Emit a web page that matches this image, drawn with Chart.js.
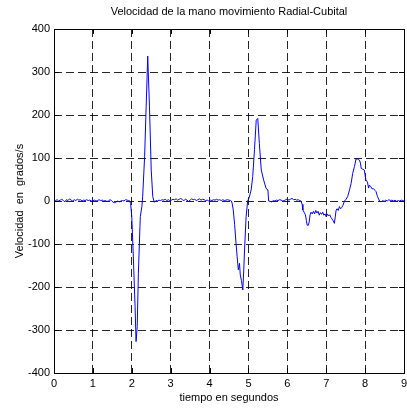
<!DOCTYPE html>
<html>
<head>
<meta charset="utf-8">
<script src="https://cdn.jsdelivr.net/npm/chart.js@4/dist/chart.umd.min.js"></script>
<style>
  body { margin: 0; background: #fff; }
  canvas { display: block; }
</style>
</head>
<body>
<canvas id="graficoVelocidad" width="407" height="411"></canvas>
<script>
// tiempo (s) y velocidad (grados/s) de la mano, movimiento radial-cubital
const tiempo = [
  0, 0.04, 0.08, 0.12, 0.16, 0.2, 0.24, 0.28, 0.32, 0.36, 0.4, 0.44, 0.48, 0.52, 0.56, 0.6, 0.64, 0.68, 0.72, 0.76,
  0.8, 0.84, 0.88, 0.92, 0.96, 1.0, 1.04, 1.08, 1.12, 1.16, 1.2, 1.24, 1.28, 1.32, 1.36, 1.4, 1.44, 1.48, 1.52, 1.56,
  1.6, 1.64, 1.68, 1.72, 1.76, 1.8, 1.84, 1.88, 1.92,
  // primer movimiento
  1.95, 1.97, 2.0, 2.04, 2.085, 2.11, 2.14, 2.17, 2.21, 2.22, 2.26, 2.28, 2.33, 2.37, 2.41, 2.455, 2.5, 2.54, 2.58, 2.62,
  2.66, 2.7, 2.74, 2.78, 2.82, 2.86, 2.9, 2.94, 2.98, 3.02, 3.06, 3.1, 3.14, 3.18, 3.22, 3.26, 3.3, 3.34, 3.38, 3.42,
  3.46, 3.5, 3.54, 3.58, 3.62, 3.66, 3.7, 3.74, 3.78, 3.82, 3.86, 3.9, 3.94, 3.98, 4.02, 4.06, 4.1, 4.14, 4.18, 4.22,
  4.26, 4.3, 4.34, 4.38, 4.42, 4.46, 4.5, 4.54,
  // segundo movimiento
  4.56, 4.58, 4.61, 4.645, 4.68, 4.71, 4.74, 4.77, 4.79, 4.82, 4.855, 4.88, 4.90, 4.94, 4.98, 5.02, 5.07, 5.11, 5.155, 5.20,
  5.24, 5.28, 5.33, 5.39, 5.455, 5.50, 5.52, 5.56,
  5.6, 5.64, 5.68, 5.72, 5.76, 5.8, 5.84, 5.88, 5.92, 5.96, 6.0, 6.04, 6.08, 6.12, 6.16, 6.2, 6.24, 6.28, 6.32,
  // tercer movimiento
  6.355, 6.38, 6.40, 6.43, 6.465, 6.49, 6.51, 6.535, 6.56, 6.585, 6.61, 6.64, 6.67, 6.70, 6.73, 6.76, 6.79, 6.82, 6.85, 6.88,
  6.91, 6.94, 6.97, 7.0, 7.03, 7.06, 7.09, 7.12, 7.15, 7.18, 7.21, 7.235, 7.255, 7.28, 7.31, 7.34, 7.37, 7.40, 7.43, 7.47,
  7.51, 7.55, 7.6, 7.64, 7.68, 7.725, 7.77, 7.79, 7.81, 7.83, 7.855, 7.88, 7.90, 7.94, 7.98, 8.02, 8.06, 8.09, 8.11, 8.15,
  8.18, 8.21, 8.25, 8.28, 8.32, 8.37,
  8.41, 8.45, 8.49, 8.53, 8.57, 8.61, 8.65, 8.69, 8.73, 8.77, 8.81, 8.85, 8.89, 8.93, 8.97, 9.0
];
const velocidad = [
  2, 1, 3, 0, 2, 4, 1, -2, 3, 1, 5, 2, 0, 3, 1, 4, 2, 3, 0, 2,
  1, 3, 1, 2, 0, 1, 2, 0, 1, 3, 1, 2, 0, 1, -1, 0, 3, 1, -3, -4,
  -2, 0, -2, 0, 1, 0, 3, 2, 1,
  0, -6, -36, -130, -246, -327, -292, -168, -60, -36, -13, 10, 103, 219, 337, 219, 72, 10, -3, 1,
  0, 2, 1, 3, 2, 4, 1, 3, 0, 2, 4, 3, 5, 2, 4, 6, 3, 1, 4, 2,
  -1, 2, 5, 3, 4, 1, 3, 5, 2, 4, 3, 1, 2, 0, 2, 1, 3, 2, 4, 2,
  3, 1, 3, 1, 2, 3, 2, 1,
  0, -5, -21, -55, -98, -130, -160, -145, -172, -185, -207, -160, -114, -36, 0, 8, 26, 57, 119, 188,
  192, 134, 72, 49, 29, 26, 0, -1,
  -2, 1, 0, 2, 1, 3, 2, 0, 1, 3, 5, 2, 4, 6, 3, 4, 2, 3, 1,
  0, -8, -21, -26, -32, -45, -56, -57, -50, -32, -26, -30, -24, -30, -22, -28, -24, -33, -27, -31,
  -26, -33, -30, -37, -30, -35, -32, -38, -42, -46, -52, -35, -21, -18, -22, -13, -18, -15, -10, 0,
  4, 10, 26, 41, 64, 80, 99, 97, 99, 96, 95, 88, 76, 74, 72, 49, 44, 30, 37, 33,
  28, 29, 25, 22, 10, 0,
  -2, 1, -1, 2, 0, 3, 1, 2, 0, 2, -1, 1, 0, 2, 1, 0
];

const ticksX = [0, 1, 2, 3, 4, 5, 6, 7, 8, 9];
const ticksY = [-400, -300, -200, -100, 0, 100, 200, 300, 400];
const titulo = 'Velocidad de la mano movimiento Radial-Cubital';

const fuente = "'Liberation Sans', Arial, sans-serif";
const puntos = tiempo.map((t, i) => ({ x: t, y: velocidad[i] }));

// marco negro, marcas hacia dentro en los cuatro lados y titulo centrado sobre el area
const marcoEjes = {
  id: 'marcoEjes',
  afterDatasetsDraw(chart) {
    const { ctx, chartArea: a, scales: { x, y } } = chart;
    const largo = 5;
    ctx.save();
    ctx.strokeStyle = '#000';
    ctx.lineWidth = 1;
    ctx.beginPath();
    ticksX.forEach(v => {
      const px = Math.round(x.getPixelForValue(v)) + 0.5;
      ctx.moveTo(px, a.bottom); ctx.lineTo(px, a.bottom - largo);
      ctx.moveTo(px, a.top); ctx.lineTo(px, a.top + largo);
    });
    ticksY.forEach(v => {
      const py = Math.round(y.getPixelForValue(v)) + 0.5;
      ctx.moveTo(a.left, py); ctx.lineTo(a.left + largo, py);
      ctx.moveTo(a.right, py); ctx.lineTo(a.right - largo, py);
    });
    ctx.stroke();
    ctx.strokeRect(Math.round(a.left) + 0.5, Math.round(a.top) + 0.5,
      Math.round(a.right - a.left), Math.round(a.bottom - a.top));

    ctx.fillStyle = '#000';
    ctx.font = '11px ' + fuente;
    ctx.textAlign = 'center';
    ctx.textBaseline = 'middle';
    ctx.fillText(titulo, (a.left + a.right) / 2, 12);
    ctx.restore();
  }
};

new Chart(document.getElementById('graficoVelocidad'), {
  type: 'line',
  data: {
    datasets: [{
      data: puntos,
      borderColor: '#0000ff',
      borderWidth: 1,
      pointRadius: 0,
      tension: 0,
      fill: false
    }]
  },
  options: {
    responsive: false,
    animation: false,
    devicePixelRatio: 1,
    layout: { padding: { left: 0, right: 3, top: 29, bottom: 0 } },
    plugins: {
      legend: { display: false },
      tooltip: { enabled: false },
      title: { display: false }
    },
    scales: {
      x: {
        type: 'linear',
        min: 0,
        max: 9,
        afterBuildTicks: s => { s.ticks = ticksX.map(v => ({ value: v })); },
        afterFit: s => { s.height = 38; s.paddingRight = 0; s.paddingLeft = 0; },
        ticks: { color: '#000', padding: 4, font: { family: fuente, size: 11 }, maxRotation: 0 },
        grid: { color: 'rgba(0,0,0,0.85)', lineWidth: 1, drawTicks: false },
        border: { display: false, dash: [8, 4] },
        title: {
          display: true,
          text: 'tiempo en segundos',
          color: '#000',
          font: { family: fuente, size: 11 },
          padding: { top: 0, bottom: 6.4 }
        }
      },
      y: {
        min: -400,
        max: 400,
        afterBuildTicks: s => { s.ticks = ticksY.map(v => ({ value: v })); },
        afterFit: s => { s.width = 54; },
        ticks: { color: '#000', padding: 4, font: { family: fuente, size: 11 } },
        grid: { color: 'rgba(0,0,0,0.85)', lineWidth: 1, drawTicks: false },
        border: { display: false, dash: [8, 4] },
        title: {
          display: true,
          text: 'Velocidad  en  grados/s',
          color: '#000',
          font: { family: fuente, size: 11 },
          padding: { top: 13.4, bottom: 0 }
        }
      }
    }
  },
  plugins: [marcoEjes]
});
</script>
</body>
</html>
